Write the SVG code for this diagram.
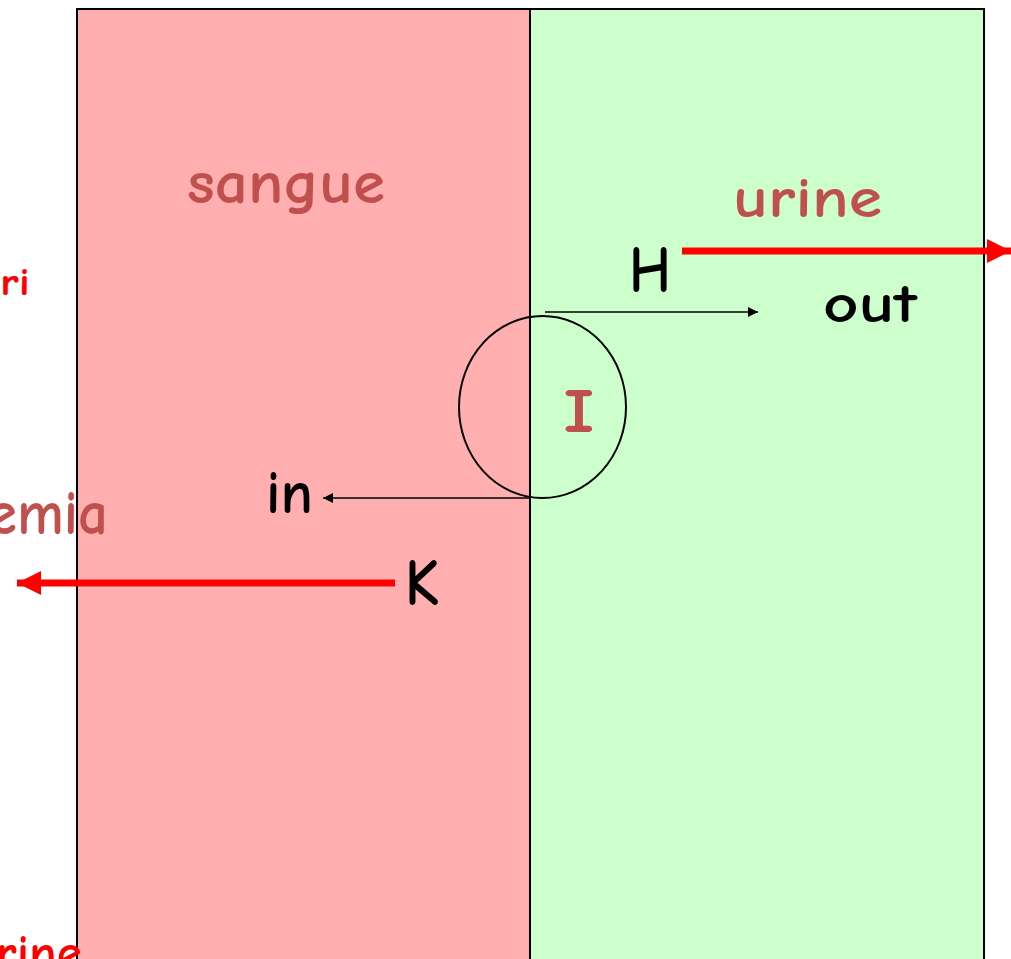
<svg xmlns="http://www.w3.org/2000/svg" width="1011" height="959" viewBox="0 0 1011 959">
<style>
.t{font-family:"Comic Sans MS","Comic Neue","DejaVu Sans",sans-serif;font-weight:bold}
.blk{fill:#000}
.brn{fill:#c0504d}
.red{fill:#ff0000}
.thin{stroke:#000;stroke-width:1.5;fill:none}
.fat{stroke:#ff0000;stroke-width:7;fill:none}
</style>
<defs>
<marker id="ab" viewBox="0 0 10 10" refX="10" refY="5" markerWidth="14" markerHeight="10" markerUnits="userSpaceOnUse" orient="auto"><path d="M0,0L10,5L0,10z" fill="#000"/></marker>
<marker id="ar" viewBox="0 0 10 10" refX="10" refY="5" markerWidth="24" markerHeight="24" markerUnits="userSpaceOnUse" orient="auto"><path d="M0,0L10,5L0,10z" fill="#ff0000"/></marker>
</defs>
<rect width="1011" height="959" fill="#fff"/>
<g id="sangue-zone">
<rect x="77" y="9" width="453" height="960" fill="#ffafaf" stroke="#000" stroke-width="2"/>
<text class="t brn" x="187" y="203" font-size="60" textLength="198" lengthAdjust="spacingAndGlyphs">sangue</text>
</g>
<g id="urine-zone">
<rect x="530" y="9" width="454" height="960" fill="#ccffcc" stroke="#000" stroke-width="2"/>
<text class="t brn" x="733" y="217" font-size="56" textLength="149" lengthAdjust="spacingAndGlyphs">urine</text>
</g>
<g id="exchanger">
<ellipse cx="542.5" cy="407" rx="83.5" ry="91" fill="none" stroke="#000" stroke-width="2"/>
<text class="t brn" x="563" y="432" font-size="62" textLength="32" lengthAdjust="spacingAndGlyphs">I</text>
</g>
<g id="connectors">
<line class="thin" x1="545" y1="312" x2="758" y2="312" marker-end="url(#ab)"/>
<line class="thin" x1="531" y1="498" x2="323" y2="498" marker-end="url(#ab)"/>
<line class="fat" x1="682" y1="251" x2="1011" y2="251" marker-end="url(#ar)"/>
<line class="fat" x1="395" y1="583" x2="17" y2="583" marker-end="url(#ar)"/>
</g>
<g id="labels">
<text class="t blk" x="629" y="292" font-size="66" textLength="42" lengthAdjust="spacingAndGlyphs">H</text>
<text class="t blk" x="823" y="322" font-size="54" textLength="94" lengthAdjust="spacingAndGlyphs">out</text>
<text class="t blk" x="266" y="513" font-size="60" textLength="47" lengthAdjust="spacingAndGlyphs">in</text>
<text class="t blk" x="405" y="605" font-size="66" textLength="34" lengthAdjust="spacingAndGlyphs">K</text>
<text class="t brn" x="-12" y="534" font-size="62" textLength="120" lengthAdjust="spacingAndGlyphs">emia</text>
<text class="t red" x="0" y="295" font-size="38" textLength="30" lengthAdjust="spacingAndGlyphs">ri</text>
<text class="t red" x="-4" y="970" font-size="50" textLength="86" lengthAdjust="spacingAndGlyphs">rine</text>
</g>
</svg>
